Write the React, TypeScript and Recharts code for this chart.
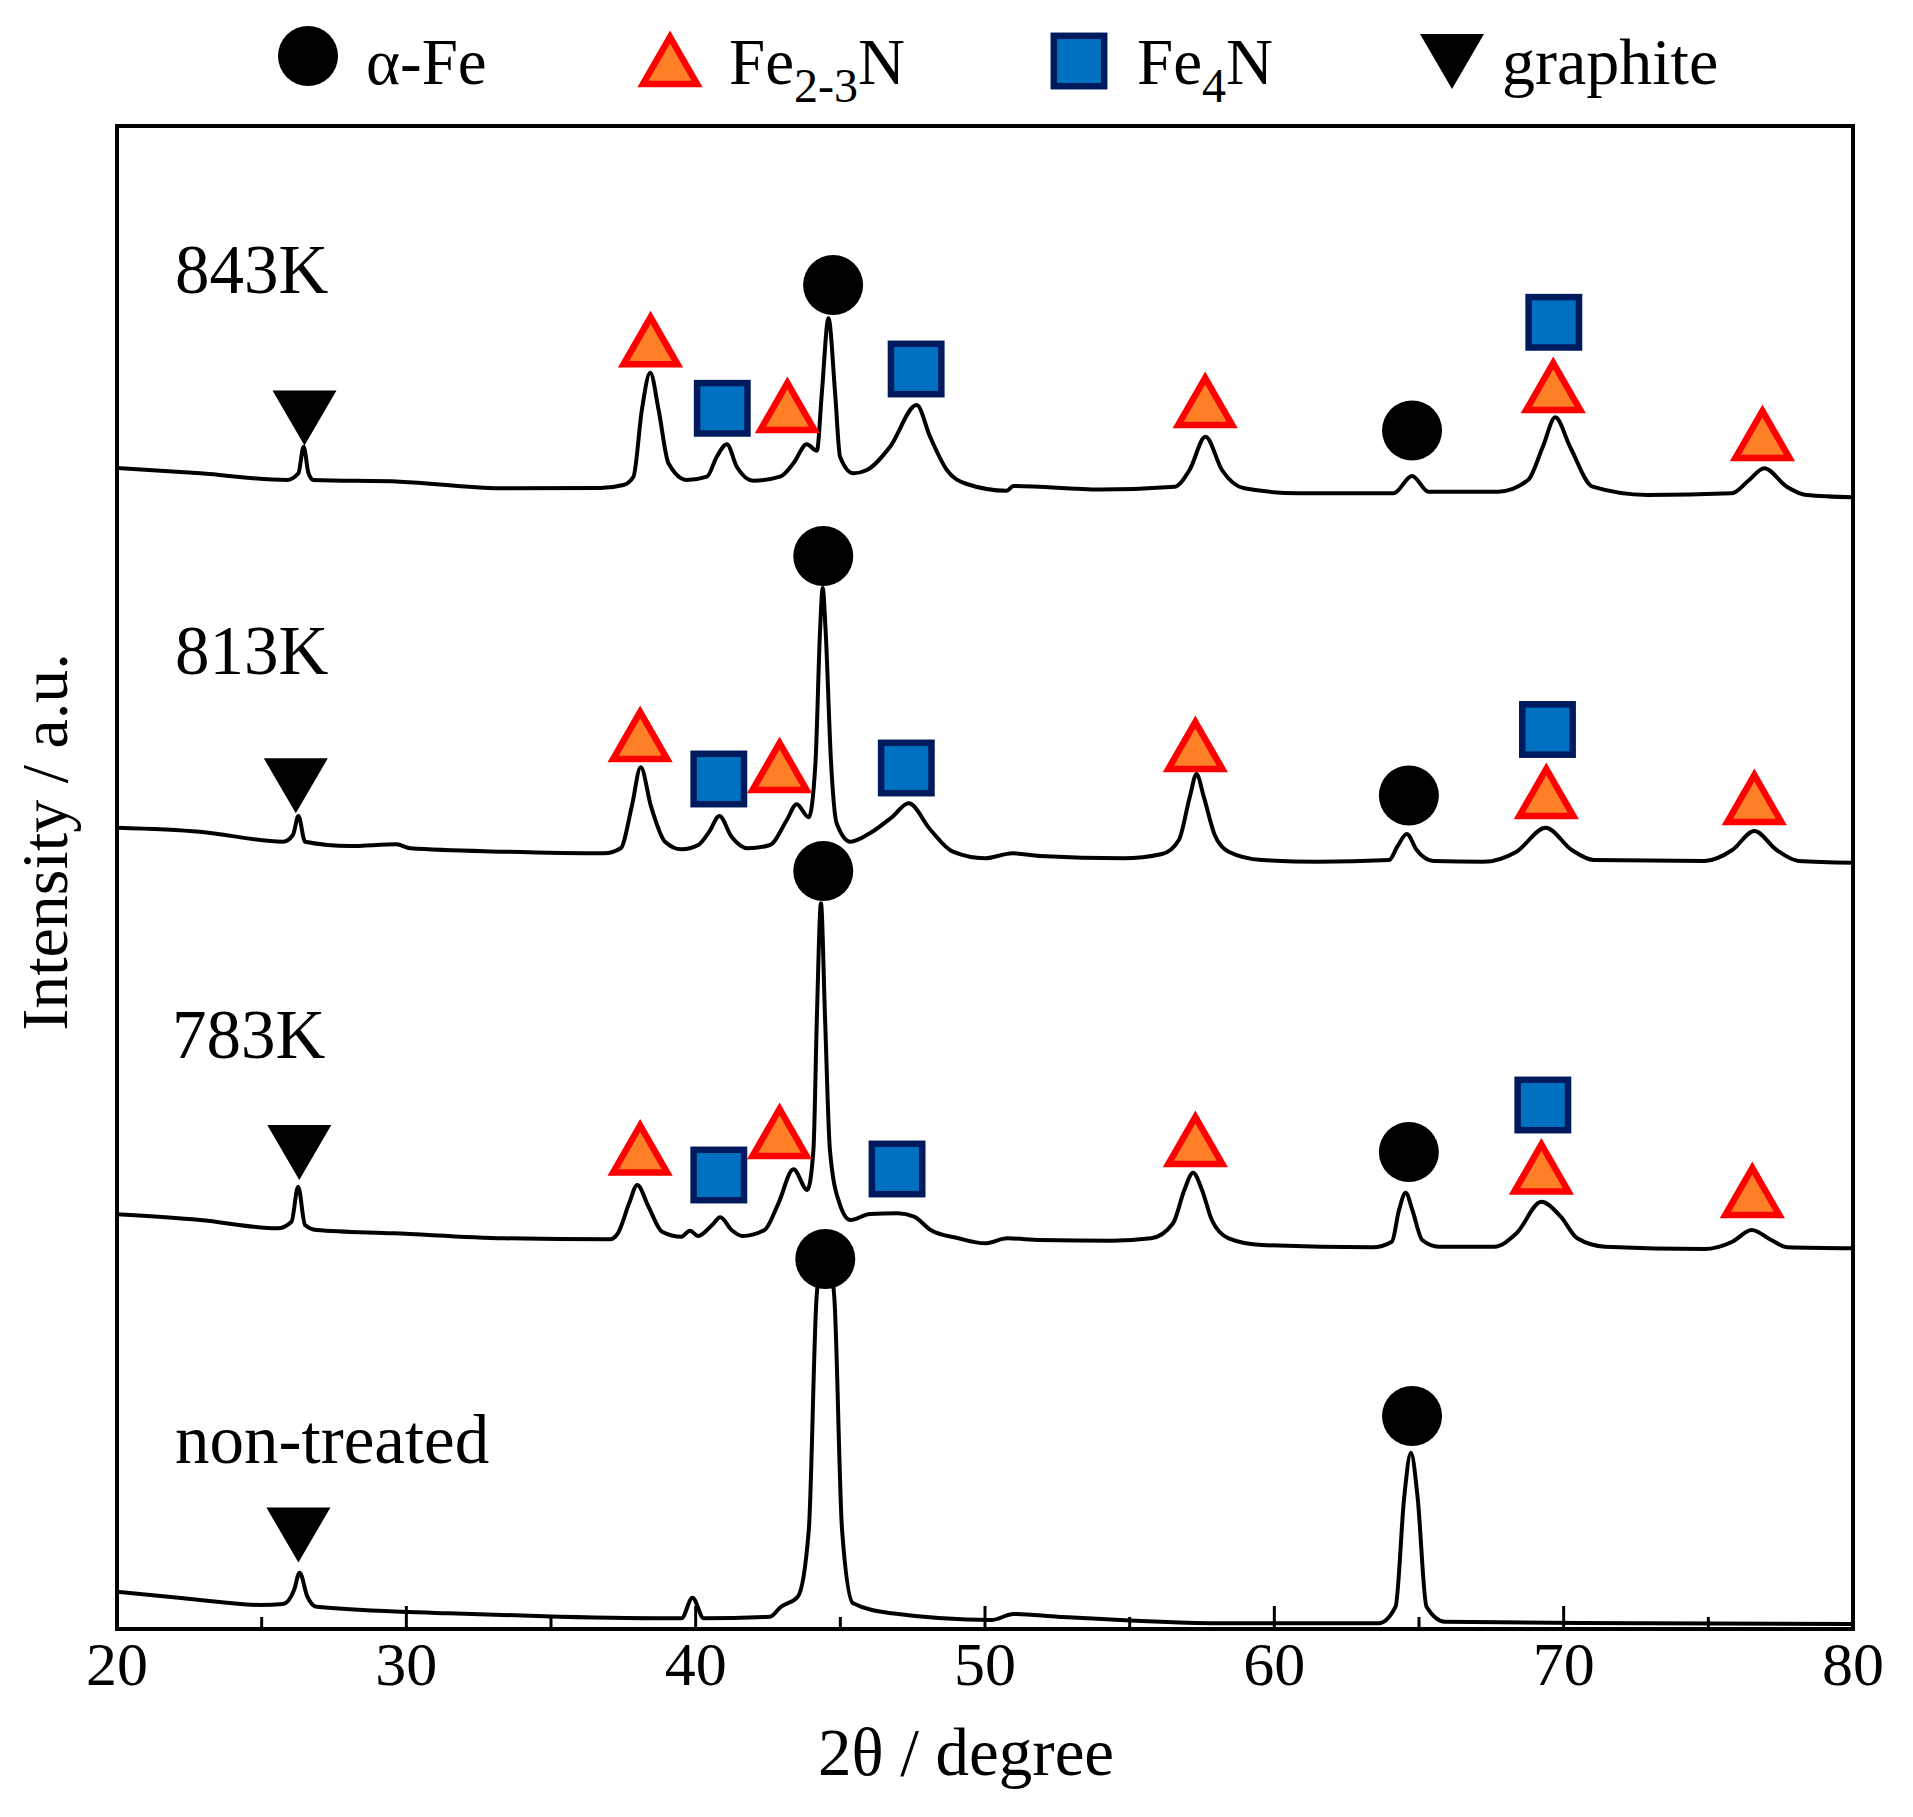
import React from 'react';
import { ComposedChart, Line, Scatter, XAxis, YAxis, ReferenceArea } from 'recharts';

// 2θ tick positions (major every 10°, minor every 5°)
const xTicks = [20, 25, 30, 35, 40, 45, 50, 55, 60, 65, 70, 75, 80];
const majorTicks = [20, 30, 40, 50, 60, 70, 80];

// XRD traces: [2θ (degree), intensity (a.u., offset included)]
const trace843K: [number, number][] = [
  [20.0, 1161], [22.88, 1155.7], [25.87, 1149], [26.27, 1155.7], [26.45, 1182.3], [26.62, 1155.7],
  [26.79, 1149], [29.79, 1147.3], [33.24, 1140.7], [36.7, 1141], [37.5, 1144], [37.85, 1152.3],
  [38.14, 1219], [38.43, 1256.3], [38.72, 1219], [39.06, 1165.7], [39.7, 1149], [40.39, 1152.3],
  [40.73, 1172.3], [41.08, 1184.7], [41.42, 1162.3], [42.0, 1148.3], [42.92, 1152.3], [43.38, 1165.7],
  [43.84, 1184.7], [44.19, 1178.3], [44.36, 1235.7], [44.59, 1310.7], [44.82, 1235.7], [44.99, 1172.3],
  [45.45, 1155.7], [45.92, 1159], [46.72, 1182.3], [47.64, 1224], [48.1, 1192.3], [48.68, 1159],
  [49.37, 1145], [50.75, 1138.3], [50.98, 1143], [53.98, 1139.5], [56.56, 1142.3], [57.07, 1159],
  [57.62, 1192.3], [58.19, 1159], [58.96, 1140.7], [60.85, 1135.7], [64.12, 1135.7], [64.76, 1153],
  [65.33, 1137.3], [67.74, 1137.3], [68.77, 1149], [69.28, 1182.3], [69.71, 1211.7], [70.22, 1182.3],
  [71.0, 1142.3], [72.89, 1134], [75.81, 1135.7], [76.41, 1149], [76.93, 1160.7], [77.71, 1142.3],
  [78.39, 1134], [80.0, 1131.7],
];

const trace813K: [number, number][] = [
  [20.0, 801.3], [22.87, 797.3], [25.74, 787.3], [26.08, 794], [26.27, 813], [26.5, 787.3],
  [28.04, 783], [29.66, 784.7], [30.14, 780.7], [33.39, 777.3], [36.84, 775.7], [37.41, 780.7],
  [37.79, 822.3], [38.1, 861.7], [38.46, 822.3], [38.94, 787.3], [39.51, 779.7], [40.09, 784],
  [40.47, 797.3], [40.82, 813], [41.24, 792.3], [41.81, 780.7], [42.57, 784], [43.15, 809],
  [43.49, 824.7], [43.91, 811.7], [44.14, 866], [44.3, 999], [44.39, 1041], [44.49, 999],
  [44.68, 866], [44.87, 806], [45.35, 787.3], [46.02, 795.7], [46.78, 811.7], [47.36, 825.7],
  [48.12, 799], [48.89, 777.3], [50.0, 770.7], [50.96, 775.7], [51.91, 773], [54.78, 770.7],
  [56.12, 775], [56.7, 789], [57.08, 832.3], [57.31, 855], [57.56, 832.3], [57.94, 794],
  [58.42, 777.3], [59.57, 769], [61.48, 767.3], [63.97, 769], [64.25, 782.3], [64.58, 795],
  [64.92, 779], [65.5, 768], [67.22, 767.3], [68.37, 777.3], [69.38, 801.3], [70.28, 779],
  [71.04, 769], [74.87, 768], [75.83, 779], [76.59, 798], [77.36, 779], [78.12, 768], [80.0, 766.3],
];

const trace783K: [number, number][] = [
  [20.0, 414.7], [22.87, 409], [25.55, 400.7], [26.03, 407.3], [26.26, 442.3], [26.5, 404],
  [26.89, 399], [29.57, 395.7], [33.39, 390.7], [37.03, 389.7], [37.31, 395.7], [37.7, 425.7],
  [37.98, 444], [38.37, 422.3], [38.84, 397.3], [39.51, 392.3], [39.8, 398.3], [40.09, 393],
  [40.57, 404], [40.85, 411.7], [41.24, 399], [41.62, 393], [42.38, 399], [42.86, 425.7],
  [43.38, 459.7], [43.86, 439], [44.07, 479], [44.19, 612.3], [44.33, 725.7], [44.47, 612.3],
  [44.64, 479], [44.97, 425.7], [45.35, 409], [46.02, 415], [46.98, 415.7], [47.55, 412.3],
  [48.12, 399], [49.08, 390.7], [50.0, 385.7], [50.77, 390.7], [51.91, 389], [54.4, 388.3],
  [55.74, 390.7], [56.5, 405.7], [56.89, 439], [57.19, 456.3], [57.5, 439], [57.84, 409],
  [58.42, 390.7], [59.57, 384], [63.39, 381.7], [64.06, 387.3], [64.31, 419], [64.54, 436.3],
  [64.77, 419], [65.11, 389], [65.69, 382.3], [67.6, 382.3], [68.37, 395.7], [69.23, 427.3],
  [69.9, 412.3], [70.47, 390.7], [71.43, 382.3], [74.87, 380], [75.83, 387.3], [76.5, 399],
  [77.17, 389], [77.74, 381.7], [80.0, 380.7],
];

const traceNonTreated: [number, number][] = [
  [20.0, 37.3], [22.3, 30.7], [24.97, 24], [25.74, 25], [26.12, 39], [26.31, 56.3], [26.58, 32.3],
  [26.89, 22.3], [31.48, 15.7], [35.3, 12.3], [39.51, 10.7], [39.89, 31.3], [40.28, 10.7],
  [42.57, 12.3], [42.95, 22.3], [43.53, 32.3], [43.91, 99], [44.18, 332.3], [44.48, 390],
  [44.79, 332.3], [45.06, 99], [45.44, 25.7], [46.78, 15.7], [50.22, 9], [50.99, 15], [52.52, 12.3],
  [58.26, 5.7], [63.61, 5.7], [64.19, 22.3], [64.49, 132.3], [64.72, 176.3], [64.95, 132.3],
  [65.26, 22.3], [65.9, 7.3], [72.79, 5.7], [80.0, 5],
];

// Phase markers [2θ, intensity of marker centre]
const alphaFe: [number, number][] = [
  [44.75, 1344], [64.76, 1198.5], [44.41, 1073], [64.65, 833.5],
  [44.41, 758], [64.65, 477], [44.48, 370], [64.76, 213],
];
const fe23N: [number, number][] = [
  [38.44, 1289.7], [43.17, 1224], [57.61, 1229], [69.64, 1244], [76.87, 1196],
  [38.08, 895], [42.9, 864], [57.27, 885], [69.4, 838], [76.59, 832],
  [38.08, 481.5], [42.9, 498], [57.27, 490], [69.23, 462.5], [76.52, 439],
];
const fe4N: [number, number][] = [
  [40.92, 1220.7], [47.62, 1260], [69.66, 1306.7],
  [40.8, 850], [47.28, 861], [69.44, 899.5],
  [40.8, 454], [46.96, 460], [69.28, 524],
];
const graphite: [number, number][] = [
  [26.48, 1211.5], [26.18, 843.7], [26.3, 477], [26.27, 94.5],
];

const sampleLabels = ['843K', '813K', '783K', 'non-treated'];
const legendLabels = ['α-Fe', 'Fe2-3N', 'Fe4N', 'graphite'];

const toPts = (arr: [number, number][]) => arr.map(([x, y]) => ({ x, y }));

const FONT = '"Liberation Serif", "Times New Roman", serif';
const ORANGE = '#FF7F27';
const RED = '#FF0000';
const BLUE = '#0070C0';
const NAVY = '#001A5E';

const drawCircle = (cx: number, cy: number) => <circle cx={cx} cy={cy} r={30} fill="#000" />;
const drawTri = (cx: number, cy: number) => (
  <path
    d={`M${cx - 27},${cy + 25} L${cx + 27},${cy + 25} L${cx},${cy - 22} Z`}
    fill={ORANGE}
    stroke={RED}
    strokeWidth={6.5}
    strokeLinejoin="miter"
  />
);
const drawSquare = (cx: number, cy: number) => (
  <rect x={cx - 25.2} y={cy - 25.2} width={50.4} height={50.4} fill={BLUE} stroke={NAVY} strokeWidth={6.5} />
);
const drawDown = (cx: number, cy: number) => (
  <path d={`M${cx - 32},${cy - 27} L${cx + 32},${cy - 27} L${cx},${cy + 28} Z`} fill="#000" />
);

const CircleShape = (p: any) => drawCircle(p.cx, p.cy);
const TriShape = (p: any) => drawTri(p.cx, p.cy);
const SquareShape = (p: any) => drawSquare(p.cx, p.cy);
const DownShape = (p: any) => drawDown(p.cx, p.cy);

const XTick = (props: any) => {
  const { x, y, payload } = props;
  const v = payload.value;
  const major = majorTicks.includes(v);
  return (
    <g>
      <line x1={x} x2={x} y1={y} y2={y - (major ? 23 : 12)} stroke="#000" strokeWidth={3} />
      {major && (
        <text x={x} y={y + 56} textAnchor="middle" fontFamily={FONT} fontSize={62} fill="#000">
          {v}
        </text>
      )}
    </g>
  );
};

const W = 1897;
const H = 1801;
const LINE_W = 4;

export default function App() {
  return (
    <div style={{ position: 'relative', width: W, height: H, background: '#fff' }}>
      <ComposedChart width={W} height={H} margin={{ top: 118, right: 52, bottom: 80, left: 109 }}>
        <XAxis
          dataKey="x"
          type="number"
          domain={[20, 80]}
          ticks={xTicks}
          interval={0}
          allowDataOverflow
          axisLine={false}
          tickLine={false}
          tickSize={0}
          tickMargin={0}
          height={100}
          tick={<XTick />}
        />
        <YAxis dataKey="y" type="number" domain={[0, 1503]} hide allowDataOverflow />
        <ReferenceArea x1={20} x2={80} y1={0} y2={1503} fill="none" stroke="#000" strokeWidth={4} />
        <Line data={toPts(traceNonTreated)} dataKey="y" type="monotone" stroke="#000" strokeWidth={LINE_W} dot={false} isAnimationActive={false} />
        <Line data={toPts(trace783K)} dataKey="y" type="monotone" stroke="#000" strokeWidth={LINE_W} dot={false} isAnimationActive={false} />
        <Line data={toPts(trace813K)} dataKey="y" type="monotone" stroke="#000" strokeWidth={LINE_W} dot={false} isAnimationActive={false} />
        <Line data={toPts(trace843K)} dataKey="y" type="monotone" stroke="#000" strokeWidth={LINE_W} dot={false} isAnimationActive={false} />
        <Scatter data={toPts(graphite)} dataKey="y" shape={DownShape} isAnimationActive={false} />
        <Scatter data={toPts(fe23N)} dataKey="y" shape={TriShape} isAnimationActive={false} />
        <Scatter data={toPts(fe4N)} dataKey="y" shape={SquareShape} isAnimationActive={false} />
        <Scatter data={toPts(alphaFe)} dataKey="y" shape={CircleShape} isAnimationActive={false} />
      </ComposedChart>
      <svg
        width={W}
        height={H}
        style={{ position: 'absolute', left: 0, top: 0, pointerEvents: 'none' }}
        fontFamily={FONT}
      >
        {/* legend */}
        {drawCircle(300, 48)}
        <text x={358} y={76} fontSize={65}>{legendLabels[0]}</text>
        {drawTri(662, 51)}
        <text x={721} y={76} fontSize={65}>
          Fe<tspan fontSize={48} dy={18}>2-3</tspan><tspan dy={-18}>N</tspan>
        </text>
        {drawSquare(1071, 53)}
        <text x={1129} y={76} fontSize={65}>
          Fe<tspan fontSize={48} dy={18}>4</tspan><tspan dy={-18}>N</tspan>
        </text>
        {drawDown(1444, 53)}
        <text x={1494} y={76} fontSize={66}>{legendLabels[3]}</text>

        {/* sample labels */}
        <text x={167} y={285} fontSize={69}>{sampleLabels[0]}</text>
        <text x={167} y={666} fontSize={69}>{sampleLabels[1]}</text>
        <text x={164} y={1050} fontSize={69}>{sampleLabels[2]}</text>
        <text x={167} y={1455} fontSize={69}>{sampleLabels[3]}</text>

        {/* axis titles */}
        <text x={958} y={1767} fontSize={67} textAnchor="middle">2θ / degree</text>
        <text x={59} y={834} fontSize={66} textAnchor="middle" transform="rotate(-90 59 834)">
          Intensity / a.u.
        </text>
      </svg>
    </div>
  );
}
